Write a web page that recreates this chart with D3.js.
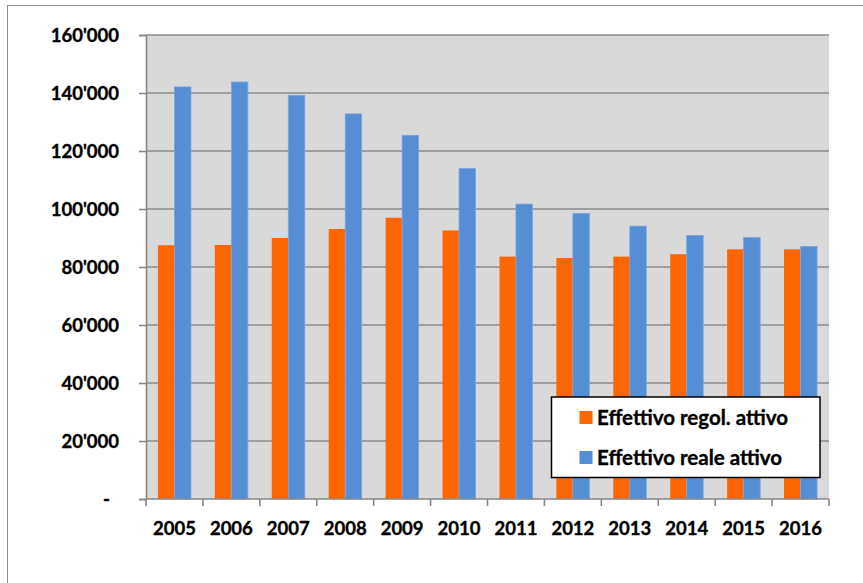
<!DOCTYPE html>
<html>
<head>
<meta charset="utf-8">
<script src="https://cdn.jsdelivr.net/npm/d3@7"></script>
<style>
  html, body { margin: 0; padding: 0; background: #fff; }
  svg { display: block; }
  text { font-family: Lato, "Open Sans", sans-serif; font-weight: bold; fill: #000; stroke: #000; stroke-width: 0.35px; }
</style>
</head>
<body>
<svg id="chart" width="863" height="583"></svg>
<script>
const years = ["2005","2006","2007","2008","2009","2010","2011","2012","2013","2014","2015","2016"];
const seriesNames = ["Effettivo regol. attivo", "Effettivo reale attivo"];
const regolAttivo = [87500, 87600, 90000, 93100, 97000, 92600, 83600, 83100, 83600, 84400, 86100, 86100];
const realeAttivo = [142100, 143800, 139200, 132800, 125400, 114000, 101700, 98500, 94100, 90900, 90200, 87100];
const yTicks = [0, 20000, 40000, 60000, 80000, 100000, 120000, 140000, 160000];
const colors = ["#FF6600", "#558ED5"];

const svg = d3.select("#chart");
const W = 863, H = 583;
const m = { left: 146, right: 829, top: 35, bottom: 499 };

// outer frame (only top and left edges visible)
svg.append("rect").attr("x", 7.5).attr("y", 5.5).attr("width", W + 20).attr("height", H + 20)
  .attr("fill", "#fff").attr("stroke", "#8c8c8c").attr("stroke-width", 1);

const x0 = d3.scaleBand().domain(years).range([m.left, m.right]).paddingInner(0.42).paddingOuter(0.21);
const x1 = d3.scaleBand().domain([0, 1]).range([0, x0.bandwidth()]);
const y = d3.scaleLinear().domain([0, 160000]).range([m.bottom, m.top]);
const xOuter = d3.scaleBand().domain(years).range([m.left, m.right]);

// plot background
svg.append("rect").attr("x", m.left).attr("y", m.top)
  .attr("width", m.right - m.left).attr("height", m.bottom - m.top).attr("fill", "#D9D9D9");

// gridlines
svg.append("g").selectAll("line").data(yTicks.filter(d => d > 0)).join("line")
  .attr("x1", m.left).attr("x2", m.right)
  .attr("y1", d => y(d)).attr("y2", d => y(d))
  .attr("stroke", "#8a8a8a").attr("stroke-width", 1.6);

// bars
const groups = svg.append("g").selectAll("g").data(years).join("g")
  .attr("transform", d => `translate(${x0(d)},0)`);
groups.selectAll("rect").data((d, i) => [regolAttivo[i], realeAttivo[i]]).join("rect")
  .attr("x", (d, j) => x1(j))
  .attr("y", d => y(d))
  .attr("width", x1.bandwidth())
  .attr("height", d => m.bottom - y(d))
  .attr("fill", (d, j) => colors[j])
  .attr("stroke", (d, j) => j === 1 ? "#7aa6de" : "none")
  .attr("stroke-width", 0.8);

// y axis
const yAxis = d3.axisLeft(y).tickValues(yTicks).tickSize(7).tickPadding(0)
  .tickFormat(d => d === 0 ? "-" : d3.format(",")(d).replace(/,/g, "'"));
const gy = svg.append("g").attr("transform", `translate(${m.left},0)`).call(yAxis);
gy.select(".domain").attr("stroke", "#868686").attr("stroke-width", 1.6);
gy.selectAll(".tick line").attr("stroke", "#868686").attr("stroke-width", 1.6);
gy.selectAll(".tick text").attr("x", d => d === 0 ? -36 : -27).attr("dy", "0.36em")
  .style("font-size", "18.5px").style("font-family", "Lato, sans-serif").style("font-weight", "bold")
  .attr("fill", "#000").style("stroke", "#000").style("stroke-width", "0.35px");

// x axis with ticks between categories
const gx = svg.append("g").attr("transform", `translate(0,${m.bottom})`);
gx.append("line").attr("x1", m.left).attr("x2", m.right).attr("y1", 0).attr("y2", 0)
  .attr("stroke", "#868686").attr("stroke-width", 1.6);
const boundaries = years.map(d => xOuter(d)).concat([m.right]);
gx.selectAll("line.tk").data(boundaries).join("line").attr("class", "tk")
  .attr("x1", d => d).attr("x2", d => d).attr("y1", 0).attr("y2", 7)
  .attr("stroke", "#868686").attr("stroke-width", 1.6);
gx.selectAll("text").data(years).join("text")
  .attr("x", d => xOuter(d) + xOuter.bandwidth() / 2)
  .attr("y", 36)
  .attr("text-anchor", "middle")
  .style("font-size", "18.5px")
  .text(d => d);

// legend
const lg = svg.append("g");
lg.append("rect").attr("x", 551.5).attr("y", 397).attr("width", 268.5).attr("height", 80.5)
  .attr("fill", "#fff").attr("stroke", "#000").attr("stroke-width", 1.5);
seriesNames.forEach((name, i) => {
  const yy = 411 + i * 40;
  lg.append("rect").attr("x", 579.5).attr("y", yy).attr("width", 13).attr("height", 13).attr("fill", colors[i]);
  lg.append("text").attr("x", 597).attr("y", yy + 13.5).style("font-size", "20.5px").text(name);
});
</script>
</body>
</html>
